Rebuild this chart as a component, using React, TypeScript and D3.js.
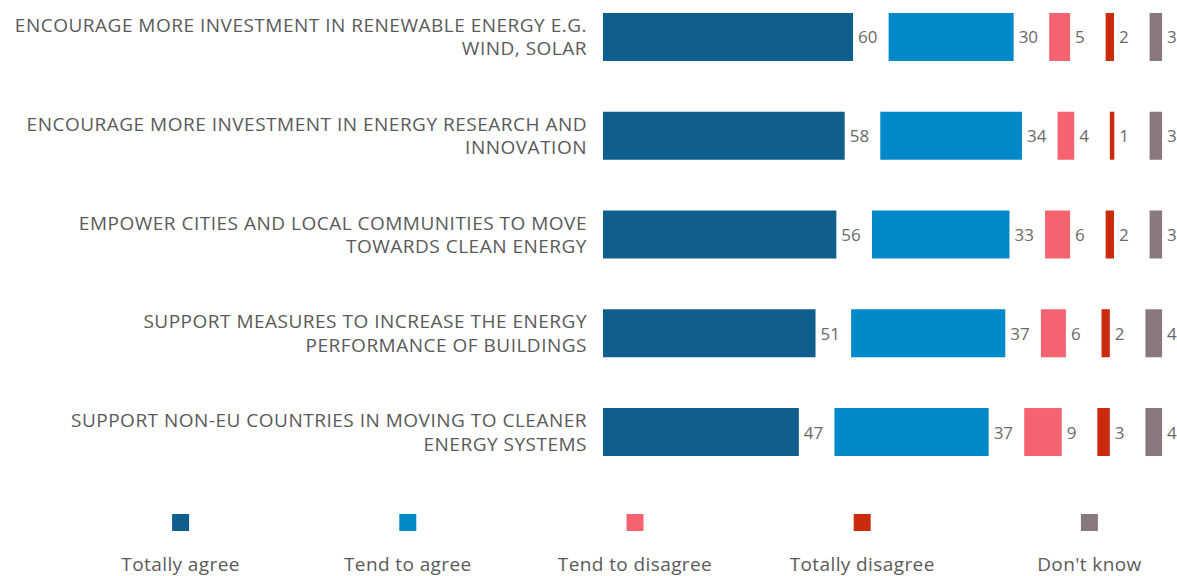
import React from 'react';
import { scaleBand, scaleLinear, sum } from 'd3';

const categories = [
  ['ENCOURAGE MORE INVESTMENT IN RENEWABLE ENERGY E.G.', 'WIND, SOLAR'],
  ['ENCOURAGE MORE INVESTMENT IN ENERGY RESEARCH AND', 'INNOVATION'],
  ['EMPOWER CITIES AND LOCAL COMMUNITIES TO MOVE', 'TOWARDS CLEAN ENERGY'],
  ['SUPPORT MEASURES TO INCREASE THE ENERGY', 'PERFORMANCE OF BUILDINGS'],
  ['SUPPORT NON-EU COUNTRIES IN MOVING TO CLEANER', 'ENERGY SYSTEMS'],
];

const seriesNames = ['Totally agree', 'Tend to agree', 'Tend to disagree', 'Totally disagree', "Don't know"];
const totallyAgree = [60, 58, 56, 51, 47];
const tendToAgree = [30, 34, 33, 37, 37];
const tendToDisagree = [5, 4, 6, 6, 9];
const totallyDisagree = [2, 1, 2, 2, 3];
const dontKnow = [3, 3, 3, 4, 4];

const series = [totallyAgree, tendToAgree, tendToDisagree, totallyDisagree, dontKnow];
const colors = ['#0f5e8d', '#0089c9', '#f4636f', '#cc2a0c', '#89797f'];

const W = 1177;
const H = 576;
const barLeft = 603;
const gap = 35.6;
const font = "'Open Sans', 'Noto Sans', sans-serif";

export default function App() {
  const keys = categories.map((_, i) => String(i));
  const y = scaleBand<string>()
    .domain(keys)
    .range([-12.4, 481.4])
    .paddingInner(0.514)
    .paddingOuter(0.257);
  const x = scaleLinear().domain([0, 100]).range([0, 416.7]);

  const legendX = scaleBand<string>().domain(seriesNames).range([67, 1203]);

  return (
    <div style={{ position: 'fixed', left: 0, top: 0, width: W, height: H, background: '#fff' }}>
      <svg width={W} height={H} style={{ display: 'block' }} fontFamily={font}>
        {keys.map((k, r) => {
          const y0 = y(k)!;
          const cy = y0 + y.bandwidth() / 2;
          return (
            <g key={k}>
              {categories[r].map((line, li) => (
                <text
                  key={li}
                  x={587}
                  y={cy - 5 + li * 23.5}
                  textAnchor="end"
                  fontSize={19}
                  letterSpacing={0.5}
                  fill="#5a5a5a"
                >
                  {line}
                </text>
              ))}
              {series.map((s, si) => {
                const before = sum(series.slice(0, si), d => d[r]);
                const x0 = barLeft + x(before) + si * gap;
                const w = Math.max(x(s[r]), 4.5);
                return (
                  <g key={si}>
                    <rect x={x0} y={y0} width={w} height={y.bandwidth()} fill={colors[si]} />
                    <text x={x0 + w + 5} y={cy + 6.5} fontSize={17} fill="#6a6a6a">
                      {s[r]}
                    </text>
                  </g>
                );
              })}
            </g>
          );
        })}

        {seriesNames.map((name, i) => {
          const cx = legendX(name)! + legendX.bandwidth() / 2;
          return (
            <g key={name}>
              <rect x={cx - 8.5} y={514} width={17} height={17} fill={colors[i]} />
              <text x={cx} y={571} textAnchor="middle" fontSize={19} letterSpacing={0.4} fill="#5a5a5a">
                {name}
              </text>
            </g>
          );
        })}
      </svg>
    </div>
  );
}
